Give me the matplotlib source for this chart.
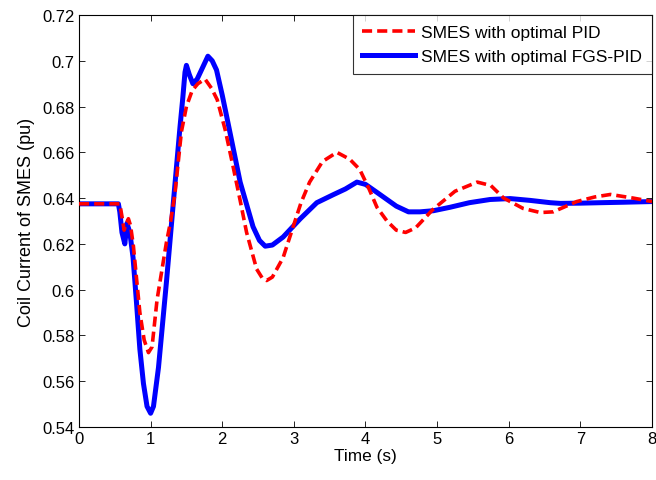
import matplotlib
matplotlib.use("Agg")
import matplotlib.pyplot as plt

plt.rcParams['font.family'] = ['Liberation Sans', 'DejaVu Sans']

# SMES with optimal PID (red dashed)
t_pid = [0.0, 0.57, 0.60, 0.63, 0.66, 0.69, 0.72, 0.76, 0.80, 0.85, 0.91, 0.97, 1.02, 1.09,
         1.16, 1.22, 1.28, 1.34, 1.43, 1.50, 1.58, 1.66, 1.76, 1.85, 1.93, 2.04, 2.15, 2.25,
         2.34, 2.48, 2.56, 2.62, 2.70, 2.85, 2.99, 3.10, 3.22, 3.40, 3.60, 3.78, 3.92, 4.05,
         4.16, 4.30, 4.43, 4.56, 4.70, 4.94, 5.25, 5.56, 5.75, 5.93, 6.20, 6.44, 6.62, 6.95,
         7.20, 7.42, 7.74, 8.0]
v_pid = [0.6375, 0.6375, 0.632, 0.626, 0.629, 0.631, 0.628, 0.619, 0.606, 0.590, 0.578, 0.5725,
         0.575, 0.5956, 0.609, 0.6205, 0.630, 0.642, 0.669, 0.680, 0.687, 0.690, 0.692, 0.688,
         0.683, 0.670, 0.654, 0.639, 0.625, 0.609, 0.605, 0.604, 0.6055, 0.614, 0.6275, 0.638,
         0.647, 0.656, 0.660, 0.657, 0.6525, 0.644, 0.636, 0.630, 0.626, 0.625, 0.627, 0.635,
         0.643, 0.647, 0.6455, 0.640, 0.6355, 0.6337, 0.634, 0.6385, 0.6405, 0.6416, 0.640, 0.6385]

# SMES with optimal FGS-PID (blue solid)
t_fgs = [0.0, 0.55, 0.57, 0.60, 0.64, 0.67, 0.71, 0.755, 0.80, 0.85, 0.90, 0.95, 1.00, 1.04,
         1.11, 1.22, 1.32, 1.41, 1.45, 1.48, 1.50, 1.54, 1.59, 1.65, 1.71, 1.80, 1.86, 1.92,
         2.00, 2.06, 2.25, 2.43, 2.52, 2.60, 2.70, 2.85, 3.09, 3.32, 3.55, 3.72, 3.88, 4.00,
         4.16, 4.43, 4.60, 4.76, 4.95, 5.18, 5.45, 5.74, 6.02, 6.30, 6.58, 6.72, 7.00, 7.28,
         7.60, 8.0]
v_fgs = [0.6375, 0.6375, 0.634, 0.625, 0.620, 0.629, 0.625, 0.614, 0.5956, 0.574, 0.559, 0.549,
         0.546, 0.549, 0.566, 0.603, 0.639, 0.671, 0.684, 0.695, 0.698, 0.694, 0.690, 0.692,
         0.696, 0.702, 0.700, 0.696, 0.685, 0.676, 0.647, 0.6275, 0.6215, 0.619, 0.6195, 0.623,
         0.631, 0.638, 0.6415, 0.644, 0.647, 0.646, 0.6425, 0.6365, 0.634, 0.634, 0.6345, 0.636,
         0.638, 0.6394, 0.6398, 0.639, 0.638, 0.6377, 0.6378, 0.638, 0.6382, 0.6385]

x_ticks = [0, 1, 2, 3, 4, 5, 6, 7, 8]
y_ticks = [0.54, 0.56, 0.58, 0.6, 0.62, 0.64, 0.66, 0.68, 0.7, 0.72]
y_tick_labels = ['0.54', '0.56', '0.58', '0.6', '0.62', '0.64', '0.66', '0.68', '0.7', '0.72']

fig = plt.figure(figsize=(6.56, 4.81), dpi=100)
ax = fig.add_axes([0.1204, 0.1102, 0.8735, 0.8565])

ax.plot(t_pid, v_pid, color='#ff0000', lw=2.6, ls=(0, (2.8, 1.4)),
        label='SMES with optimal PID', zorder=3)
ax.plot(t_fgs, v_fgs, color='#0000ff', lw=3.6, label='SMES with optimal FGS-PID', zorder=2)

ax.set_xlim(0, 8)
ax.set_ylim(0.54, 0.72)
ax.set_xticks(x_ticks)
ax.set_yticks(y_ticks)
ax.set_yticklabels(y_tick_labels)
ax.tick_params(direction='in', top=True, right=True, labelsize=12, length=4, width=0.6, pad=3)
for s in ax.spines.values():
    s.set_linewidth(0.8)

ax.set_xlabel('Time (s)', fontsize=12.4, labelpad=1)
ax.set_ylabel('Coil Current of SMES (pu)', fontsize=13, labelpad=5)

leg = ax.legend(loc='upper right', fontsize=12.5, frameon=True, fancybox=False,
                edgecolor='black', borderaxespad=0.0, handlelength=3.0,
                handletextpad=0.4, labelspacing=0.55, borderpad=0.55)
leg.get_frame().set_linewidth(0.8)

fig.savefig('out.png', dpi=100)
